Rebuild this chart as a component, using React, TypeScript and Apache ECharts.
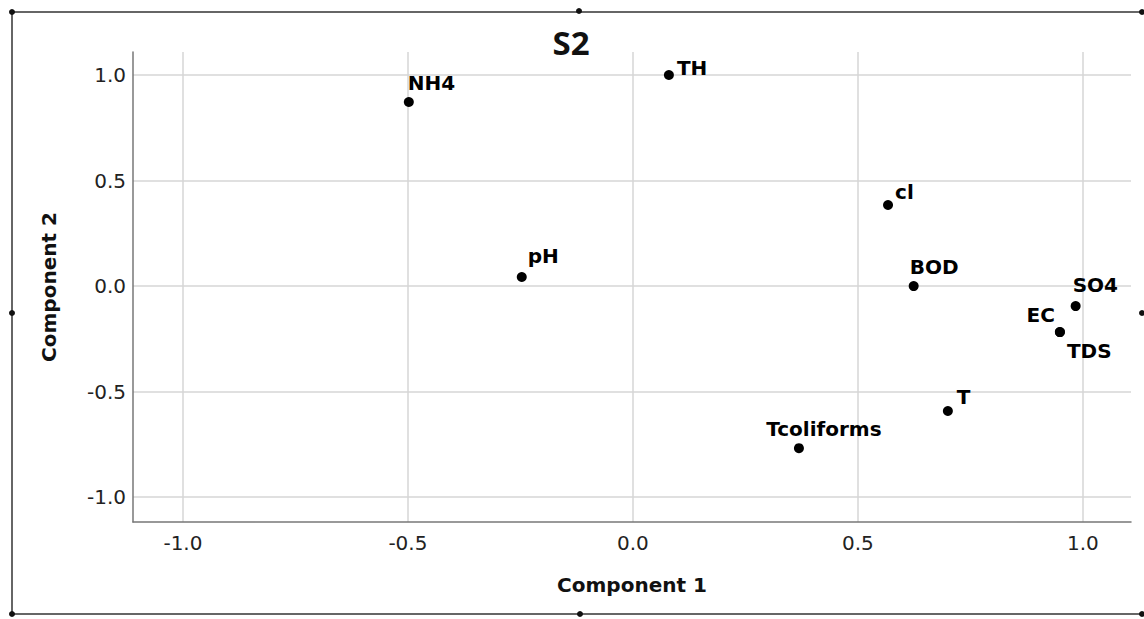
import React, { useEffect, useRef } from "react";
import * as echarts from "echarts";

const pointNames = ["NH4", "TH", "pH", "cl", "BOD", "SO4", "EC", "TDS", "T", "Tcoliforms"];
const component1 = [-0.498, 0.08, -0.247, 0.567, 0.624, 0.984, 0.949, 0.949, 0.7, 0.369];
const component2 = [0.872, 1.0, 0.043, 0.384, 0.0, -0.095, -0.218, -0.218, -0.592, -0.768];
const tickValues = [-1.0, -0.5, 0.0, 0.5, 1.0];

// label placement relative to dot centre: [align, dx, dy]
const labelPlacement: Record<string, [string, number, number]> = {
  NH4: ["left", -1, -19],
  TH: ["left", 8, -7],
  pH: ["left", 6, -21],
  cl: ["left", 7, -13],
  BOD: ["left", -4, -19],
  SO4: ["left", -3, -21],
  EC: ["right", -5, -17],
  TDS: ["left", 7, 19],
  T: ["left", 9, -14],
  Tcoliforms: ["center", 25, -19],
};

const SYMBOL = 10;

export default function App() {
  const ref = useRef<HTMLDivElement>(null);
  useEffect(() => {
    if (!ref.current) return;
    const chart = echarts.init(ref.current, null, { renderer: "svg" });
    const data = pointNames.map((n, i) => {
      const p = labelPlacement[n];
      return {
        name: n,
        value: [component1[i], component2[i]],
        label: {
          show: true,
          position: [SYMBOL / 2 + p[1], SYMBOL / 2 + p[2]],
          align: p[0],
          verticalAlign: "middle",
          formatter: n,
        },
      };
    });
    const frameDots = [
      [12, 12], [579, 11], [1142, 12],
      [12, 313], [1142, 313],
      [12, 614], [580, 614], [1142, 614],
    ];
    chart.setOption({
      animation: false,
      backgroundColor: "#ffffff",
      grid: { left: 133, right: 13, top: 52, bottom: 97, containLabel: false },
      xAxis: {
        type: "value",
        min: -1.111,
        max: 1.107,
        name: "Component 1",
        nameLocation: "middle",
        nameGap: 53,
        nameTextStyle: { fontFamily: "DejaVu Sans", fontWeight: "bold", fontSize: 20, color: "#111" },
        axisLine: { show: true, onZero: false, lineStyle: { color: "#777", width: 1.5 } },
        axisTick: { show: false, customValues: tickValues },
        axisLabel: {
          customValues: tickValues,
          margin: 11,
          fontFamily: "DejaVu Sans",
          fontSize: 20,
          color: "#222",
          formatter: (v: number) => v.toFixed(1),
        },
        splitLine: { show: true, lineStyle: { color: "#d6d6d6", width: 1.5 } },
      },
      yAxis: {
        type: "value",
        min: -1.118,
        max: 1.109,
        name: "Component 2",
        nameLocation: "middle",
        nameGap: 74,
        nameRotate: 90,
        nameTextStyle: { fontFamily: "DejaVu Sans", fontWeight: "bold", fontSize: 20, color: "#111" },
        axisLine: { show: true, onZero: false, lineStyle: { color: "#777", width: 1.5 } },
        axisTick: { show: false, customValues: tickValues },
        axisLabel: {
          customValues: tickValues,
          margin: 7,
          fontFamily: "DejaVu Sans",
          fontSize: 20,
          color: "#222",
          formatter: (v: number) => v.toFixed(1),
        },
        splitLine: { show: true, lineStyle: { color: "#d6d6d6", width: 1.5 } },
      },
      series: [
        {
          type: "scatter",
          symbol: "circle",
          symbolSize: SYMBOL,
          itemStyle: { color: "#000", opacity: 1 },
          label: {
            fontFamily: "DejaVu Sans",
            fontWeight: "bold",
            fontSize: 20,
            color: "#000",
          },
          emphasis: { disabled: true },
          data,
        },
      ],
      graphic: [
        {
          type: "text",
          x: 571,
          y: 42,
          style: {
            text: "S2",
            align: "center",
            verticalAlign: "middle",
            font: "bold 33px 'Open Sans'",
            fill: "#111",
          },
        },
        {
          type: "line",
          shape: { x1: 12, y1: 12, x2: 1143, y2: 12 },
          style: { stroke: "#666", lineWidth: 2 },
        },
        {
          type: "line",
          shape: { x1: 12, y1: 12, x2: 12, y2: 614 },
          style: { stroke: "#666", lineWidth: 2 },
        },
        {
          type: "line",
          shape: { x1: 12, y1: 614, x2: 1143, y2: 614 },
          style: { stroke: "#666", lineWidth: 2 },
        },
        ...frameDots.map((d) => ({
          type: "circle",
          shape: { cx: d[0], cy: d[1], r: 3 },
          style: { fill: "#111" },
        })),
      ],
    });
    return () => chart.dispose();
  }, []);
  return (
    <div
      ref={ref}
      style={{ position: "fixed", left: 0, top: 0, width: 1144, height: 619 }}
    />
  );
}
